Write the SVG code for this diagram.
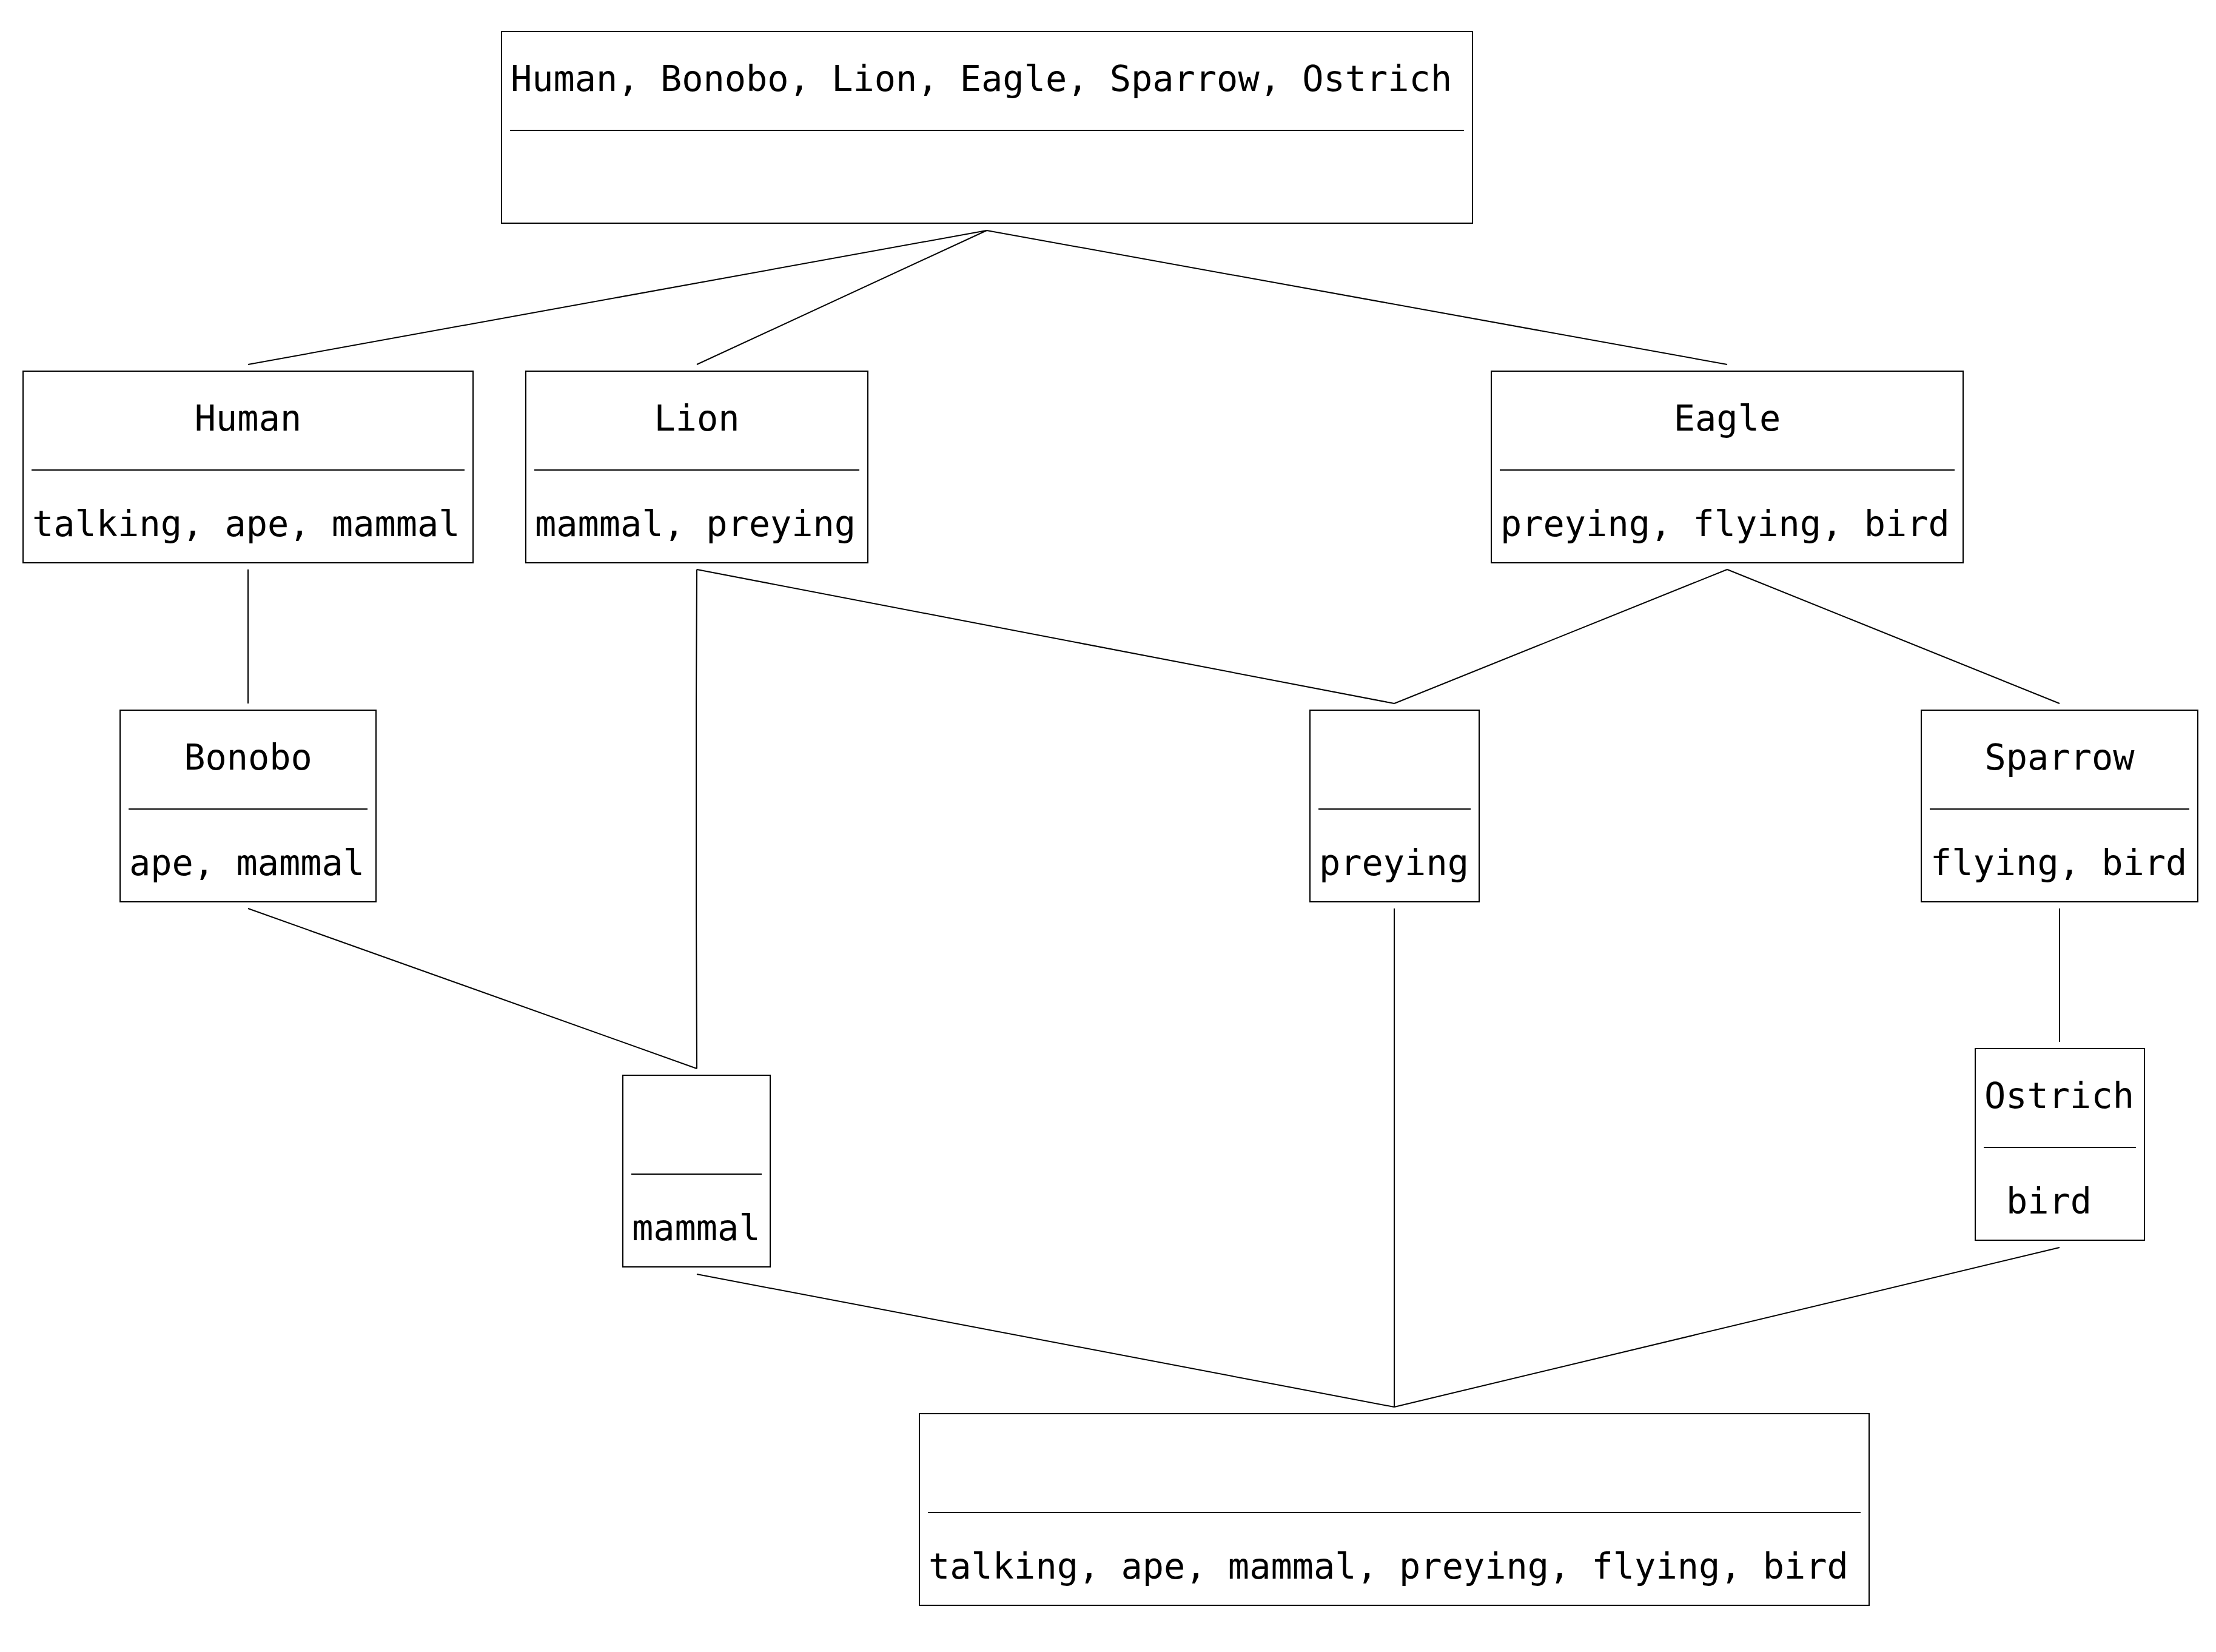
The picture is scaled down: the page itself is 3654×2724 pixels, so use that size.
<svg xmlns="http://www.w3.org/2000/svg" width="3654" height="2724" viewBox="0 0 3654 2724">
<style>
.box{fill:#fff;stroke:#000;stroke-width:2}
.div{stroke:#000;stroke-width:2}
.t{font-family:"DejaVu Sans Mono","Liberation Mono",monospace;font-size:58.6px;fill:#000}
.m{text-anchor:middle}
#edges polyline,#edges line{fill:none;stroke:#000;stroke-width:2}
</style>
<rect width="3654" height="2724" fill="#fff"/>
<g id="edges">
<line x1="1627" y1="380" x2="409" y2="601"/>
<line x1="1627" y1="380" x2="1149" y2="601"/>
<line x1="1627" y1="380" x2="2848" y2="601"/>
<line x1="409" y1="939" x2="409" y2="1160"/>
<polyline points="1149,939 1148,1160 1148,1497 1149,1762"/>
<line x1="1149" y1="939" x2="2299" y2="1160"/>
<line x1="2848" y1="939" x2="2299" y2="1160"/>
<line x1="2848" y1="939" x2="3396" y2="1160"/>
<line x1="409" y1="1498" x2="1149" y2="1762"/>
<line x1="3396" y1="1498" x2="3396" y2="1718"/>
<polyline points="2299,1498 2299,1716 2299,2056 2299,2320"/>
<line x1="1149" y1="2101" x2="2299" y2="2320"/>
<line x1="3396" y1="2057" x2="2299" y2="2320"/>
</g>
<g id="top">
<rect class="box" x="827" y="52" width="1601" height="316"/>
<line class="div" x1="841" y1="215" x2="2414" y2="215"/>
<text class="t" x="842" y="150">Human, Bonobo, Lion, Eagle, Sparrow, Ostrich</text>
</g>
<g id="human">
<rect class="box" x="38" y="612" width="742" height="316"/>
<line class="div" x1="52" y1="775" x2="766" y2="775"/>
<text class="t m" x="409" y="710">Human</text>
<text class="t" x="53" y="884">talking, ape, mammal</text>
</g>
<g id="lion">
<rect class="box" x="867" y="612" width="564" height="316"/>
<line class="div" x1="881" y1="775" x2="1417" y2="775"/>
<text class="t m" x="1149" y="710">Lion</text>
<text class="t" x="882" y="884">mammal, preying</text>
</g>
<g id="eagle">
<rect class="box" x="2459" y="612" width="778" height="316"/>
<line class="div" x1="2473" y1="775" x2="3223" y2="775"/>
<text class="t m" x="2848" y="710">Eagle</text>
<text class="t" x="2474" y="884">preying, flying, bird</text>
</g>
<g id="bonobo">
<rect class="box" x="198" y="1171" width="422" height="316"/>
<line class="div" x1="212" y1="1334" x2="606" y2="1334"/>
<text class="t m" x="409" y="1269">Bonobo</text>
<text class="t" x="213" y="1443">ape, mammal</text>
</g>
<g id="preying">
<rect class="box" x="2160" y="1171" width="279" height="316"/>
<line class="div" x1="2174" y1="1334" x2="2425" y2="1334"/>
<text class="t" x="2175" y="1443">preying</text>
</g>
<g id="sparrow">
<rect class="box" x="3168" y="1171" width="456" height="316"/>
<line class="div" x1="3182" y1="1334" x2="3610" y2="1334"/>
<text class="t m" x="3396" y="1269">Sparrow</text>
<text class="t" x="3183" y="1443">flying, bird</text>
</g>
<g id="mammal">
<rect class="box" x="1027" y="1773" width="243" height="316"/>
<line class="div" x1="1041" y1="1936" x2="1256" y2="1936"/>
<text class="t" x="1042" y="2045">mammal</text>
</g>
<g id="ostrich">
<rect class="box" x="3257" y="1729" width="279" height="316"/>
<line class="div" x1="3271" y1="1892" x2="3522" y2="1892"/>
<text class="t" x="3272" y="1827">Ostrich</text>
<text class="t" x="3308" y="2001">bird</text>
</g>
<g id="bottom">
<rect class="box" x="1516" y="2331" width="1566" height="316"/>
<line class="div" x1="1530" y1="2494" x2="3068" y2="2494"/>
<text class="t" x="1531" y="2603">talking, ape, mammal, preying, flying, bird</text>
</g>
</svg>
